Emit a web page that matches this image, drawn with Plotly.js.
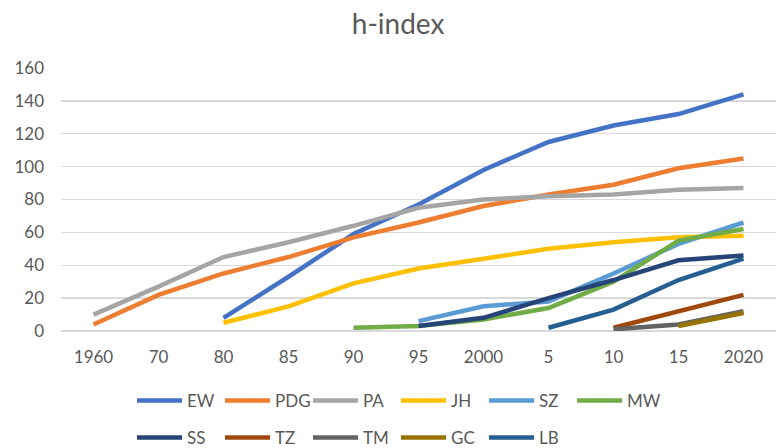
<!DOCTYPE html>
<html>
<head>
<meta charset="utf-8">
<script src="https://cdn.plot.ly/plotly-3.0.1.min.js"></script>
<style>html,body{margin:0;padding:0;background:#fff;}#chart{width:776px;height:448px;}</style>
</head>
<body>
<div id="chart"></div>
<script>
const categories = ["1960","70","80","85","90","95","2000","5","10","15","2020"];
const EW  = [null,null,8,33,59,77,98,115,125,132,144];
const PDG = [4,22,35,45,57,66,76,83,89,99,105];
const PA  = [10,27,45,54,64,75,80,82,83,86,87];
const JH  = [null,null,5,15,29,38,44,50,54,57,58];
const SZ  = [null,null,null,null,null,6,15,18,35,53,66];
const MW  = [null,null,null,null,2,3,7,14,30,55,62];
const SS  = [null,null,null,null,null,3,8,20,31,43,46];
const TZ  = [null,null,null,null,null,null,null,null,2,12,22];
const TM  = [null,null,null,null,null,null,null,null,1,4,12];
const GC  = [null,null,null,null,null,null,null,null,null,3,11];
const LB  = [null,null,null,null,null,null,null,2,13,31,44];
const seriesNames = ["EW","PDG","PA","JH","SZ","MW","SS","TZ","TM","GC","LB"];
const seriesValues = [EW,PDG,PA,JH,SZ,MW,SS,TZ,TM,GC,LB];
const seriesColors = ["#4472C4","#ED7D31","#A5A5A5","#FFC000","#5B9BD5","#70AD47","#264478","#9E480E","#636363","#997300","#255E91"];

const FONT = "Lato, 'Open Sans', sans-serif";
const traces = seriesNames.map((n,i)=>({
  type:'scatter', mode:'lines', name:n, x:categories, y:seriesValues[i],
  line:{color:seriesColors[i], width:4.5},
  legend: i < 6 ? 'legend' : 'legend2',
  hoverinfo:'skip'
}));

const legendCommon = {
  orientation:'h', xanchor:'left', yanchor:'middle', xref:'container', yref:'container', x:132/776,
  font:{family:FONT, size:17, color:'#595959'},
  itemwidth:45, entrywidth:28, entrywidthmode:'pixels',
  bgcolor:'rgba(0,0,0,0)', traceorder:'normal', tracegroupgap:0
};

const layout = {
  width:776, height:448,
  margin:{l:61, r:0, t:68, b:117, autoexpand:false},
  paper_bgcolor:'#fff', plot_bgcolor:'#fff',
  title:{text:'h-index', font:{family:FONT, size:28, color:'#595959'}, x:0.513, xanchor:'center', y:0.945, yanchor:'middle'},
  xaxis:{type:'category', range:[-0.5,10.5], showgrid:false, zeroline:false, showline:false, ticks:'',
         tickfont:{family:FONT, size:17, color:'#595959'}, ticklabelstandoff:14, fixedrange:true, automargin:false},
  yaxis:{range:[0,160], dtick:20, tick0:0, showgrid:true, gridcolor:'#D9D9D9', gridwidth:1.3,
         zeroline:true, zerolinecolor:'#D9D9D9', zerolinewidth:1.3, ticks:'',
         tickfont:{family:FONT, size:17, color:'#595959'}, ticklabelstandoff:16, fixedrange:true, automargin:false},
  legend:Object.assign({}, legendCommon, {y:1-401/448}),
  legend2:Object.assign({}, legendCommon, {y:1-438/448}),
  showlegend:true
};

Plotly.newPlot('chart', traces, layout, {staticPlot:true, displayModeBar:false});
</script>
</body>
</html>
